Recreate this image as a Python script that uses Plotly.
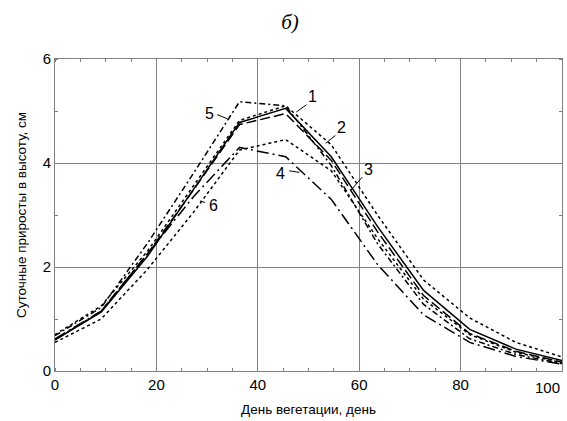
import plotly.graph_objects as go

# Day of vegetation (knots)
days = [0, 9.1, 18.2, 27.3, 36.4, 45.5, 54.5, 63.6, 72.7, 81.8, 90.9, 100]

# Daily height increments, cm
curve1 = [0.60, 1.13, 2.20, 3.50, 4.78, 5.05, 4.12, 2.78, 1.55, 0.80, 0.42, 0.20]
curve2 = [0.70, 1.25, 2.30, 3.55, 4.82, 5.10, 4.35, 3.00, 1.75, 1.02, 0.55, 0.27]
curve3 = [0.60, 1.15, 2.25, 3.48, 4.74, 4.95, 4.05, 2.68, 1.45, 0.72, 0.38, 0.17]
curve4 = [0.62, 1.15, 2.25, 3.35, 4.30, 4.12, 3.30, 2.05, 1.08, 0.55, 0.28, 0.13]
curve5 = [0.68, 1.22, 2.45, 3.80, 5.18, 5.10, 3.95, 2.45, 1.28, 0.62, 0.32, 0.14]
curve6 = [0.55, 1.00, 1.95, 3.05, 4.25, 4.45, 3.85, 2.55, 1.38, 0.70, 0.36, 0.16]

series = [curve1, curve2, curve3, curve4, curve5, curve6]
names = ["1", "2", "3", "4", "5", "6"]
dashes = ["solid", "3px,3px", "10px,4px", "12px,4px,2px,4px", "6px,3px,2px,3px", "dot"]

# Curve labels: text position and leader-line end (data coords)
label_text = ["1", "2", "3", "4", "5", "6"]
label_x = [50.7, 56.6, 61.9, 44.4, 30.4, 31.2]
label_y = [5.27, 4.68, 3.88, 3.80, 4.95, 3.18]
leader_x0 = [49.6, 55.3, 60.6, 46.2, 32.0, 29.6]
leader_y0 = [5.12, 4.53, 3.73, 3.85, 4.93, 3.24]
leader_x1 = [47.6, 53.4, 58.4, 48.2, 34.0, 28.6]
leader_y1 = [4.98, 4.38, 3.48, 3.82, 4.85, 3.27]

xticks = [0, 20, 40, 60, 80, 100]
xticklabels = ["0", "20", "40", "60", "80", "100"]
yticks = [0, 2, 4, 6]
yticklabels = ["0", "2", "4", "6"]

FONT = "Liberation Sans, Arial"

fig = go.Figure()
for vals, nm, ds in zip(series, names, dashes):
    fig.add_trace(go.Scatter(x=days, y=vals, mode="lines", name=nm,
                             line=dict(color="black", width=1.5, dash=ds)))

for t, lx, ly, x0, y0, x1, y1 in zip(label_text, label_x, label_y,
                                      leader_x0, leader_y0, leader_x1, leader_y1):
    fig.add_annotation(x=lx, y=ly, text=t, showarrow=False,
                       font=dict(family=FONT, size=16, color="black"))
    fig.add_shape(type="line", x0=x0, y0=y0, x1=x1, y1=y1,
                  line=dict(color="black", width=1))

# last x tick label would overflow the page edge: draw it right-aligned at its tick
fig.add_annotation(x=xticks[-1], y=0, xref="x", yref="y", text=xticklabels[-1],
                   showarrow=False, xanchor="right", yanchor="top", yshift=-6,
                   font=dict(family=FONT, size=15, color="black"))

axis_common = dict(showline=True, linecolor="#808080", linewidth=1, mirror="allticks",
                   showgrid=True, gridcolor="#808080", gridwidth=1, zeroline=False,
                   ticks="", tickfont=dict(family=FONT, size=15, color="black"))

fig.update_layout(
    width=567, height=421,
    margin=dict(l=55, r=5, t=59, b=50),
    paper_bgcolor="white", plot_bgcolor="white",
    showlegend=False,
    title=dict(text="<i>б)</i>", x=290/567, xanchor="center", y=1-22/421, yanchor="middle",
               font=dict(family="Liberation Serif, Times New Roman", size=21, color="black")),
    xaxis=dict(range=[0, 100], tickvals=xticks[:-1], ticktext=xticklabels[:-1],
               title=dict(text="День вегетации, день", standoff=12,
                          font=dict(family=FONT, size=13.5, color="black")),
               minor=dict(dtick=5, ticks="inside", ticklen=3, tickcolor="#808080", showgrid=False),
               automargin=False,
               **axis_common),
    yaxis=dict(range=[0, 6], tickvals=yticks, ticktext=yticklabels,
               title=dict(text="Суточные приросты в высоту, см", standoff=12,
                          font=dict(family=FONT, size=13.5, color="black")),
               minor=dict(dtick=1, ticks="inside", ticklen=3, tickcolor="#808080", showgrid=False),
               automargin=False,
               **axis_common),
)

# keep grid line at x=100 edge handled by frame; add gridlines at ticks
fig.write_html("out.html")
